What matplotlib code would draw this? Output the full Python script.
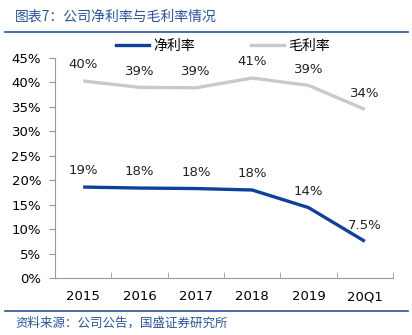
import matplotlib.pyplot as plt
from matplotlib.lines import Line2D

plt.rcParams['font.family'] = ['DejaVu Sans', 'Noto Sans CJK SC']

periods = ['2015', '2016', '2017', '2018', '2019', '20Q1']
net_margin = [18.6, 18.4, 18.3, 18.0, 14.4, 7.5]
gross_margin = [40.3, 39.0, 38.9, 40.9, 39.4, 34.5]
net_labels = ['19%', '18%', '18%', '18%', '14%', '7.5%']
gross_labels = ['40%', '39%', '39%', '41%', '39%', '34%']

blue = '#0E4199'
gray = '#C9C9C9'
title_blue = '#2A5597'

fig = plt.figure(figsize=(4.12, 3.35), dpi=100)
ax = fig.add_axes([55 / 412, (335 - 278) / 335, 338 / 412, 220 / 335])

x = list(range(len(periods)))
ax.plot(x, net_margin, color=blue, lw=2.4, solid_capstyle='butt')
ax.plot(x, gross_margin, color=gray, lw=2.4, solid_capstyle='butt')

for i in x:
    ax.annotate(net_labels[i], (i, net_margin[i]), xytext=(0, 7), textcoords='offset points',
                ha='center', va='bottom', fontsize=9.5, color='#222222')
    ax.annotate(gross_labels[i], (i, gross_margin[i]), xytext=(0, 7), textcoords='offset points',
                ha='center', va='bottom', fontsize=9.5, color='#222222')

ax.set_xlim(-0.5, len(periods) - 0.5)
ax.set_ylim(0, 45)
ax.set_yticks(range(0, 46, 5))
ax.set_yticklabels([f'{v}%' for v in range(0, 46, 5)], fontsize=9.5)
ax.set_xticks(x)
ax.set_xticklabels(periods, fontsize=9.5)
ax.tick_params(axis='x', length=0, pad=9)
ax.set_xticks([i + 0.5 for i in x[:-1]] + [-0.5, len(periods) - 0.5], minor=True)
ax.tick_params(axis='x', which='minor', direction='in', length=4, color='#999999')
ax.tick_params(axis='y', length=4, color='#999999', pad=6)

for side in ['top', 'right']:
    ax.spines[side].set_visible(False)
for side in ['left', 'bottom']:
    ax.spines[side].set_color('#999999')
    ax.spines[side].set_linewidth(0.8)

handles = [Line2D([], [], color=blue, lw=2.4), Line2D([], [], color=gray, lw=2.4)]
fig.legend(handles, ['净利率', '毛利率'], loc='center', bbox_to_anchor=(223 / 412, 1 - 46 / 335),
           ncol=2, frameon=False, handlelength=2.4, handletextpad=0.3,
           columnspacing=4.0, prop={'family': ['Noto Sans CJK SC'], 'size': 10})

fig.text(15 / 412, 1 - 17 / 335, '图表7：公司净利率与毛利率情况', fontsize=10,
         color=title_blue, va='center', family=['Noto Sans CJK SC'])
fig.add_artist(Line2D([5 / 412, 408 / 412], [1 - 32 / 335] * 2, color=title_blue, lw=1.2))
fig.add_artist(Line2D([5 / 412, 408 / 412], [1 - 311 / 335] * 2, color=title_blue, lw=1.2))
fig.text(15 / 412, 1 - 323 / 335, '资料来源：公司公告，国盛证券研究所', fontsize=9,
         color=title_blue, va='center', family=['Noto Sans CJK SC'])

fig.savefig('out.png', dpi=100)
